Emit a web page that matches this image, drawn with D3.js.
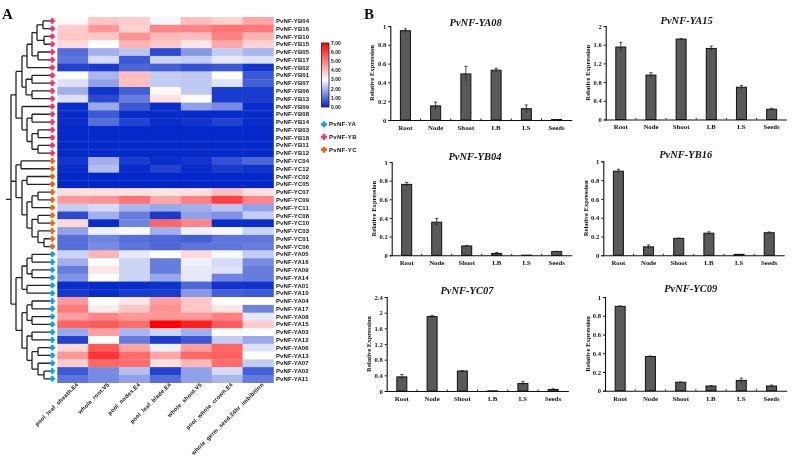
<!DOCTYPE html>
<html>
<head>
  <title>PvNF-Y expression heatmap and qPCR bars</title>
  <script src="https://d3js.org/d3.v7.min.js"></script>
  <style>
    body { margin: 0; padding: 0; background: white; overflow: hidden; }
    svg { display: block; filter: blur(0.4px); }
    .hm { font-family: "Liberation Sans", Arial, sans-serif; font-weight: bold; fill: #111; }
    .br { font-family: "Liberation Serif", serif; font-weight: bold; fill: #111; }
  </style>
</head>
<body>
  <svg width="795" height="458"></svg>

  <script>
    // heatmap data
    const tissues = ["pool_leaf_sheath.E4", "whole_root.V5", "pool_nodes.E4", "pool_leaf_blade.E4",
                     "whole_shoot.V5", "pool_whole_crown.E4", "whole_germ_seed.24hr_imbibition"];
    const genes = ["YB04","YB16","YB10","YB15","YB05","YB17","YB02","YB01","YB07","YB06","YB13","YB09",
                   "YB08","YB14","YB03","YB18","YB11","YB12",
                   "YC04","YC12","YC02","YC05","YC07","YC09","YC11","YC08","YC10","YC03","YC01","YC06",
                   "YA05","YA16","YA09","YA14","YA01","YA10","YA04","YA17","YA08","YA15","YA03","YA12",
                   "YA06","YA13","YA07","YA02","YA11"];
    const expression = [
      [3.1,3.9,3.8,2.9,4.0,3.7,4.4],
      [3.8,4.6,3.7,4.9,4.9,5.2,5.1],
      [3.9,3.9,4.7,4.1,4.0,5.0,4.2],
      [3.6,3.0,4.2,3.9,3.4,4.4,3.7],
      [1.0,1.9,2.2,0.5,1.6,2.3,2.0],
      [1.1,2.5,0.7,2.4,2.3,2.7,2.6],
      [0.4,0.3,0.9,0.8,0.6,0.7,0.2],
      [3.0,2.0,4.0,2.3,2.25,3.0,0.7],
      [2.6,1.7,4.0,2.3,2.25,2.6,0.8],
      [1.9,0.2,0.8,3.1,2.25,0.3,0.3],
      [2.6,0.5,1.2,3.5,3.0,0.3,0.3],
      [0.1,1.8,0.7,0.1,1.7,1.4,0.1],
      [0.1,0.7,0.1,0.1,0.1,0.1,0.1],
      [0.1,1.0,0.4,0.1,0.2,0.4,0.1],
      [0.05,0.05,0.05,0.05,0.05,0.05,0.05],
      [0.05,0.05,0.05,0.05,0.05,0.05,0.05],
      [0.05,0.05,0.05,0.05,0.05,0.05,0.05],
      [0.05,0.05,0.05,0.05,0.05,0.05,0.05],
      [0.2,1.9,0.3,0.1,0.2,0.6,0.9],
      [0.1,2.1,0.1,0.4,0.1,0.3,0.2],
      [0.02,0.02,0.02,0.02,0.02,0.02,0.02],
      [0.02,0.02,0.02,0.02,0.02,0.02,0.02],
      [3.5,3.5,3.5,3.4,3.5,4.0,3.5],
      [4.6,4.7,5.2,4.4,5.0,6.0,4.9],
      [2.3,2.5,2.0,1.8,1.9,2.2,1.7],
      [0.5,1.9,1.2,0.3,1.7,1.5,2.3],
      [3.6,0.1,1.3,5.4,4.9,0.1,0.1],
      [1.7,2.8,2.9,1.9,2.8,2.9,2.4],
      [1.0,1.3,1.0,0.9,0.8,1.1,1.1],
      [1.0,1.4,1.1,0.9,1.1,1.1,1.2],
      [2.4,4.2,2.7,3.0,3.6,2.9,2.3],
      [1.9,3.0,2.4,1.2,2.8,2.5,1.4],
      [1.2,3.4,2.4,1.2,2.7,2.6,1.2],
      [1.5,3.0,2.4,1.8,2.7,1.3,1.2],
      [0.1,0.05,0.1,0.15,0.9,0.2,0.2],
      [0.25,0.1,0.3,0.3,1.6,0.8,0.7],
      [4.6,3.0,3.4,4.5,3.9,3.0,3.0],
      [5.1,3.3,3.9,4.7,3.9,3.4,1.3],
      [4.5,4.9,4.6,4.6,4.6,5.0,2.7],
      [5.5,5.6,5.3,7.0,6.5,5.6,3.8],
      [1.8,4.5,2.0,2.4,1.9,3.1,3.0],
      [0.4,3.0,1.2,0.3,0.7,2.3,1.8],
      [3.6,5.6,4.4,2.8,4.5,5.4,2.6],
      [4.6,6.2,5.3,4.4,5.4,5.5,3.0],
      [3.8,5.4,5.3,3.5,4.1,5.3,2.3],
      [0.7,1.4,2.1,0.4,1.7,2.5,0.8],
      [1.1,1.4,1.7,1.0,1.7,2.0,1.2]
    ];
    const scaleTicks = [0,1,2,3,4,5,6,7];

    // dendrogram: [merge distance, ...children], leaves are gene names
    const tree = [39,
      [34,
        [28,
          [23,
            [18, [13, [7,"YB04","YB16"], [6,"YB10","YB15"]], [12,"YB05","YB17"]],
            "YB02"],
          [24, [18,"YB01","YB07"], [18,"YB06","YB13"]]],
        [28,
          "YB09",
          [23, [18,"YB08","YB14"], [18, [12,"YB03","YB18"], [12,"YB11","YB12"]]]]],
      [34,
        [29,"YC04","YC12"],
        [28,
          [23,"YC02","YC05"],
          [23,
            [18, [12,"YC07","YC09"], "YC11"],
            [18, [12,"YC08","YC10"], [12,"YC03",[6,"YC01","YC06"]]]]]],
      [34,
        [28,
          [23, [18,"YA05","YA16"], [18,"YA09","YA14"]],
          [23,"YA01","YA10"]],
        [28,
          [23, [18,"YA04","YA17"], [18,"YA08","YA15"]],
          [23,
            [18,"YA03","YA12"],
            [18, [12,"YA06","YA13"], [12,"YA07",[6,"YA02","YA11"]]]]]]
    ];
    const familyNames = ["PvNF-YA", "PvNF-YB", "PvNF-YC"];
    const familyColors = ["#0a9fe6", "#fb2c6c", "#ea6212"];

    // bar chart data
    const organs = ["Root", "Node", "Shoot", "LB", "LS", "Seeds"];
    const ya08Values = [0.95, 0.15, 0.49, 0.53, 0.12, 0.005];
    const ya08Errors = [0.02, 0.04, 0.08, 0.02, 0.04, 0];
    const ya15Values = [1.55, 0.95, 1.72, 1.52, 0.69, 0.22];
    const ya15Errors = [0.1, 0.05, 0.01, 0.05, 0.04, 0.02];
    const yb04Values = [0.76, 0.355, 0.1, 0.02, 0.002, 0.04];
    const yb04Errors = [0.02, 0.04, 0.005, 0.01, 0, 0.003];
    const yb16Values = [0.895, 0.09, 0.18, 0.235, 0.01, 0.24];
    const yb16Errors = [0.02, 0.02, 0.003, 0.015, 0, 0.008];
    const yc07Values = [0.36, 1.9, 0.51, 0.005, 0.19, 0.04];
    const yc07Errors = [0.06, 0.03, 0.01, 0, 0.05, 0.015];
    const yc09Values = [0.9, 0.365, 0.09, 0.05, 0.11, 0.05];
    const yc09Errors = [0.005, 0.005, 0.003, 0.005, 0.025, 0.01];
    const unitTicks = [0, 0.2, 0.4, 0.6, 0.8, 1];
    const wideTicks = [0, 0.4, 0.8, 1.2, 1.6, 2];
    const tallTicks = [0, 0.4, 0.8, 1.2, 1.6, 2, 2.4];

    const svg = d3.select("svg");

    // panel letters
    svg.append("text").attr("class", "br").attr("x", 2).attr("y", 19).attr("font-size", 15).text("A");
    svg.append("text").attr("class", "br").attr("x", 364).attr("y", 19).attr("font-size", 15).text("B");

    // ---- heatmap
    const colX = d3.scaleBand().domain(tissues).range([57.3, 273.5]);
    const rowY = d3.scaleBand().domain(genes).range([17, 382.7]);
    const color = d3.scaleLinear().domain([0, 3, 7]).range(["#0026c8", "#ffffff", "#ff0000"]);

    svg.append("g").selectAll("g")
      .data(genes)
      .join("g")
      .each(function(gene, i) {
        d3.select(this).selectAll("rect")
          .data(expression[i])
          .join("rect")
            .attr("x", (d, j) => colX(tissues[j]))
            .attr("y", rowY(gene))
            .attr("width", colX.bandwidth() + 0.3)
            .attr("height", rowY.bandwidth() + 0.3)
            .attr("fill", d => color(d));
      });

    svg.append("g").selectAll("text")
      .data(genes)
      .join("text")
        .attr("class", "hm")
        .attr("x", 276)
        .attr("y", d => rowY(d) + rowY.bandwidth() / 2 + 2.1)
        .attr("font-size", 6)
        .attr("letter-spacing", 0.1)
        .text(d => "PvNF-" + d);

    svg.append("g").selectAll("text")
      .data(tissues)
      .join("text")
        .attr("class", "hm")
        .attr("text-anchor", "end")
        .attr("font-size", 5.7)
        .attr("letter-spacing", 0.2)
        .attr("transform", d => "translate(" + (colX(d) + colX.bandwidth() / 2 + 6) + ",385) rotate(-45)")
        .text(d => d);

    // ---- dendrogram
    const distX = d3.scaleLinear().domain([0, 50]).range([50, 0]);
    const branches = d3.path();
    function layout(node) {
      if (typeof node === "string") return { x: distX(0), y: rowY(node) + rowY.bandwidth() / 2 };
      const [dist, ...kids] = node;
      const x = distX(dist);
      const pts = kids.map(layout);
      pts.forEach(p => { branches.moveTo(x, p.y); branches.lineTo(p.x, p.y); });
      const ys = pts.map(p => p.y);
      branches.moveTo(x, d3.min(ys));
      branches.lineTo(x, d3.max(ys));
      return { x: x, y: (d3.min(ys) + d3.max(ys)) / 2 };
    }
    const root = layout(tree);
    branches.moveTo(root.x, root.y);
    branches.lineTo(root.x - 5, root.y);
    svg.append("path")
      .attr("d", branches.toString())
      .attr("fill", "none")
      .attr("stroke", "#222")
      .attr("stroke-width", 1.3);

    const familyColor = d3.scaleOrdinal().domain(["YA", "YB", "YC"]).range(familyColors);
    const marker = d3.symbol().type(d3.symbolCross).size(13);
    svg.append("g").selectAll("path")
      .data(genes)
      .join("path")
        .attr("d", () => marker())
        .attr("transform", d => "translate(52.3," + (rowY(d) + rowY.bandwidth() / 2) + ")")
        .attr("fill", d => familyColor(d.slice(0, 2)))
        .attr("stroke", d => familyColor(d.slice(0, 2)))
        .attr("stroke-width", 0.9)
        .attr("stroke-linejoin", "round");

    // ---- colour bar
    const defs = svg.append("defs");
    const grad = defs.append("linearGradient").attr("id", "cbar")
      .attr("x1", 0).attr("x2", 0).attr("y1", 1).attr("y2", 0);
    d3.range(0, 7.01, 0.5).forEach(v => {
      grad.append("stop").attr("offset", v / 7).attr("stop-color", color(v));
    });
    const barY = d3.scaleLinear().domain([0, 7]).range([107, 43]);
    svg.append("rect")
      .attr("x", 321.5).attr("y", barY(7))
      .attr("width", 7.5).attr("height", barY(0) - barY(7))
      .attr("fill", "url(#cbar)")
      .attr("stroke", "#222").attr("stroke-width", 0.8);
    svg.append("g").selectAll("text")
      .data(scaleTicks)
      .join("text")
        .attr("class", "hm")
        .attr("x", 331)
        .attr("y", d => barY(d) + 1.8)
        .attr("font-size", 5)
        .text(d => d.toFixed(2));

    // ---- family legend
    const legendY = d3.scaleBand().domain(familyNames).range([118, 156]);
    const legendMark = d3.symbol().type(d3.symbolCross).size(15);
    const legend = svg.append("g").selectAll("g")
      .data(familyNames)
      .join("g")
        .attr("transform", d => "translate(324," + (legendY(d) + legendY.bandwidth() / 2) + ")");
    legend.append("path")
      .attr("d", () => legendMark())
      .attr("fill", (d, i) => familyColors[i])
      .attr("stroke", (d, i) => familyColors[i])
      .attr("stroke-width", 1)
      .attr("stroke-linejoin", "round");
    legend.append("text")
      .attr("class", "hm")
      .attr("x", 5)
      .attr("y", 2)
      .attr("font-size", 6)
      .attr("letter-spacing", 0.3)
      .text(d => d);

    // ---- bar panels
    function barPanel(p) {
      const x = d3.scaleBand().domain(organs).range([p.left, p.right]);
      const y = d3.scaleLinear().domain([0, d3.max(p.ticks)]).range([p.bottom, p.top]);
      const g = svg.append("g");

      g.append("text")
        .attr("class", "br")
        .attr("x", p.titleX)
        .attr("y", p.titleY)
        .attr("text-anchor", "middle")
        .attr("font-size", 10.5)
        .attr("font-style", "italic")
        .text(p.title);

      g.append("text")
        .attr("class", "br")
        .attr("text-anchor", "middle")
        .attr("font-size", 6.6)
        .attr("transform", "translate(" + p.labelX + "," + (p.top + p.bottom) / 2 + ") rotate(-90)")
        .text("Relative Expression");

      g.selectAll(".bar")
        .data(p.values)
        .join("rect")
          .attr("class", "bar")
          .attr("x", (d, i) => x(organs[i]) + x.bandwidth() / 2 - 5)
          .attr("y", d => y(d))
          .attr("width", 10)
          .attr("height", d => p.bottom - y(d))
          .attr("fill", "#595959")
          .attr("stroke", "#111")
          .attr("stroke-width", 1);

      const errors = d3.path();
      p.values.forEach((v, i) => {
        const cx = x(organs[i]) + x.bandwidth() / 2;
        const hi = y(v + p.errors[i]), lo = y(v - p.errors[i]);
        if (p.errors[i] === 0) return;
        errors.moveTo(cx, lo); errors.lineTo(cx, hi);
        errors.moveTo(cx - 1.6, hi); errors.lineTo(cx + 1.6, hi);
      });
      g.append("path")
        .attr("d", errors.toString())
        .attr("fill", "none")
        .attr("stroke", "#222")
        .attr("stroke-width", 0.8);

      const yAxis = g.append("g")
        .attr("transform", "translate(" + p.left + ",0)")
        .call(d3.axisLeft(y).tickValues(p.ticks).tickSize(2).tickFormat(d3.format("~g")));
      const xAxis = g.append("g")
        .attr("transform", "translate(0," + p.bottom + ")")
        .call(d3.axisBottom(x).tickSize(0).tickPadding(5));
      [yAxis, xAxis].forEach(a => {
        a.select(".domain").attr("stroke", "#111").attr("stroke-width", 1.1);
        a.selectAll("line").attr("stroke", "#111");
        a.selectAll("text").attr("class", "br").attr("font-size", 6.6).attr("fill", "#111");
      });
      xAxis.selectAll("text").attr("font-size", 6.8);
      yAxis.selectAll("text").attr("x", -4);

      g.selectAll(".sep")
        .data(organs.slice(1))
        .join("line")
          .attr("class", "sep")
          .attr("x1", d => x(d))
          .attr("x2", d => x(d))
          .attr("y1", p.bottom)
          .attr("y2", p.bottom - 1.5)
          .attr("stroke", "#111");
    }

    [
      { title: "PvNF-YA08", values: ya08Values, errors: ya08Errors, ticks: unitTicks,
        left: 390.3, right: 571.7, top: 26, bottom: 120, titleX: 475.7, titleY: 26, labelX: 374 },
      { title: "PvNF-YA15", values: ya15Values, errors: ya15Errors, ticks: wideTicks,
        left: 605.7, right: 786.7, top: 26, bottom: 119.5, titleX: 686.7, titleY: 23.5, labelX: 590 },
      { title: "PvNF-YB04", values: yb04Values, errors: yb04Errors, ticks: unitTicks,
        left: 391.7, right: 571.7, top: 162, bottom: 255.3, titleX: 475, titleY: 160, labelX: 376 },
      { title: "PvNF-YB16", values: yb16Values, errors: yb16Errors, ticks: unitTicks,
        left: 603.3, right: 784.3, top: 161.3, bottom: 255.3, titleX: 685.7, titleY: 157.5, labelX: 587.7 },
      { title: "PvNF-YC07", values: yc07Values, errors: yc07Errors, ticks: tallTicks,
        left: 386.7, right: 568.3, top: 297, bottom: 391, titleX: 467, titleY: 294, labelX: 371 },
      { title: "PvNF-YC09", values: yc09Values, errors: yc09Errors, ticks: unitTicks,
        left: 605, right: 786.7, top: 297, bottom: 390.7, titleX: 690.7, titleY: 291.5, labelX: 589.7 }
    ].forEach(barPanel);
  </script>
</body>
</html>
